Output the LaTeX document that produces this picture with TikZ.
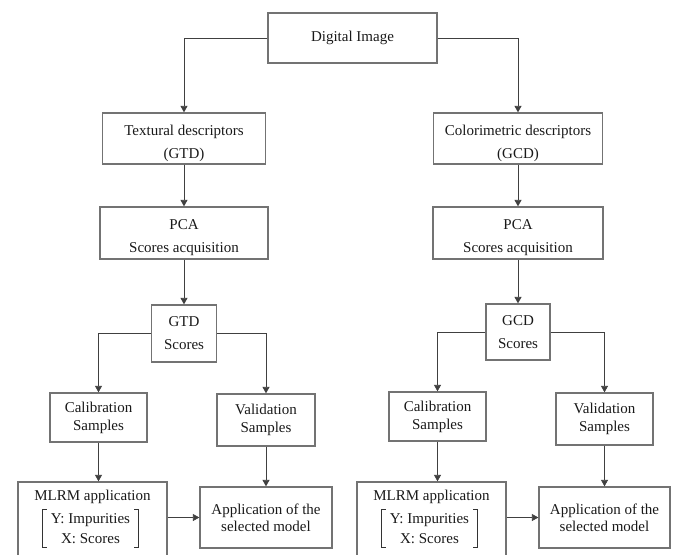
\documentclass[tikz,border=0pt]{standalone}
\usepackage{fontspec}
\setmainfont{Liberation Serif}
\usetikzlibrary{arrows.meta}
\colorlet{boxgray}{black!55}
\colorlet{linegray}{black!75}
\newcommand{\lowtop}{\rule{0pt}{20pt}}
\begin{document}
\begin{tikzpicture}
	[x=1pt, y=-1pt,
	every node/.style={text=black!90, font=\fontsize{15}{18}\selectfont},
	box/.style={draw=boxgray, line width=1.3pt, align=center, inner sep=0pt},
	tall/.style={font=\fontsize{15}{23}\selectfont},
	vars/.style={align=center, inner sep=0pt, minimum width=95, minimum height=37, font=\fontsize{15}{20}\selectfont},
	bracket/.style={draw=black!80, line width=0.7pt},
	link/.style={draw=linegray, line width=0.8pt, -{Triangle[length=6.5pt,width=7pt]}}]
	\clip (0,0) rectangle (677,554);
	\node[box, minimum width=169, minimum height=50] (img) at (352.5,38) {Digital Image};
	% textural branch
	\node[box, tall, minimum width=163, minimum height=51] (txt) at (184,138.5) {\lowtop Textural descriptors\\(GTD)};
	\node[box, tall, minimum width=168, minimum height=52] (pcaL) at (184,233) {\lowtop PCA\\Scores acquisition};
	\node[box, tall, minimum width=65, minimum height=57] (gtd) at (184,333.5) {GTD\\Scores};
	\node[box, minimum width=97, minimum height=49] (calL) at (98.5,417.5) {Calibration\\Samples};
	\node[box, minimum width=98, minimum height=52] (valL) at (266,420) {Validation\\Samples};
	\node[box, minimum width=149, minimum height=80] (mlrmL) at (92.5,522) {};
	\node (mlrmLhead) at (92.5,497) {MLRM application};
	\node[vars] (mlrmLvars) at (90.5,528.5) {Y: Impurities\\X: Scores};
	\draw[bracket] ([xshift=4pt]mlrmLvars.north west) -- (mlrmLvars.north west) -- (mlrmLvars.south west) -- ([xshift=4pt]mlrmLvars.south west);
	\draw[bracket] ([xshift=-4pt]mlrmLvars.north east) -- (mlrmLvars.north east) -- (mlrmLvars.south east) -- ([xshift=-4pt]mlrmLvars.south east);
	\node[box, font=\fontsize{15}{17}\selectfont, minimum width=132, minimum height=61] (appL) at (266,517.5) {Application of the\\selected model};
	% colorimetric branch
	\node[box, tall, minimum width=169, minimum height=51] (col) at (518,138.5) {\lowtop Colorimetric descriptors\\(GCD)};
	\node[box, tall, minimum width=170, minimum height=52] (pcaR) at (518,233) {\lowtop PCA\\Scores acquisition};
	\node[box, tall, minimum width=64, minimum height=56] (gcd) at (518,332) {GCD\\Scores};
	\node[box, minimum width=97, minimum height=49] (calR) at (437.5,416.5) {Calibration\\Samples};
	\node[box, minimum width=97, minimum height=52] (valR) at (604.5,419) {Validation\\Samples};
	\node[box, minimum width=149, minimum height=80] (mlrmR) at (431.5,522) {};
	\node (mlrmRhead) at (431.5,497) {MLRM application};
	\node[vars] (mlrmRvars) at (429.5,528.5) {Y: Impurities\\X: Scores};
	\draw[bracket] ([xshift=4pt]mlrmRvars.north west) -- (mlrmRvars.north west) -- (mlrmRvars.south west) -- ([xshift=4pt]mlrmRvars.south west);
	\draw[bracket] ([xshift=-4pt]mlrmRvars.north east) -- (mlrmRvars.north east) -- (mlrmRvars.south east) -- ([xshift=-4pt]mlrmRvars.south east);
	\node[box, font=\fontsize{15}{17}\selectfont, minimum width=131, minimum height=61] (appR) at (604.5,517.5) {Application of the\\selected model};
	% connectors
	\draw[link] (img.west) -| (txt.north);
	\draw[link] (img.east) -| (col.north);
	\draw[link] (txt) -- (pcaL);
	\draw[link] (pcaL) -- (gtd);
	\draw[link] (gtd.west) -| (calL.north);
	\draw[link] (gtd.east) -| (valL.north);
	\draw[link] (calL.south) -- (calL.south |- mlrmL.north);
	\draw[link] (valL) -- (appL);
	\draw[link] (mlrmL.east |- appL.west) -- (appL.west);
	\draw[link] (col) -- (pcaR);
	\draw[link] (pcaR) -- (gcd);
	\draw[link] (gcd.west) -| (calR.north);
	\draw[link] (gcd.east) -| (valR.north);
	\draw[link] (calR.south) -- (calR.south |- mlrmR.north);
	\draw[link] (valR) -- (appR);
	\draw[link] (mlrmR.east |- appR.west) -- (appR.west);
\end{tikzpicture}
\end{document}
